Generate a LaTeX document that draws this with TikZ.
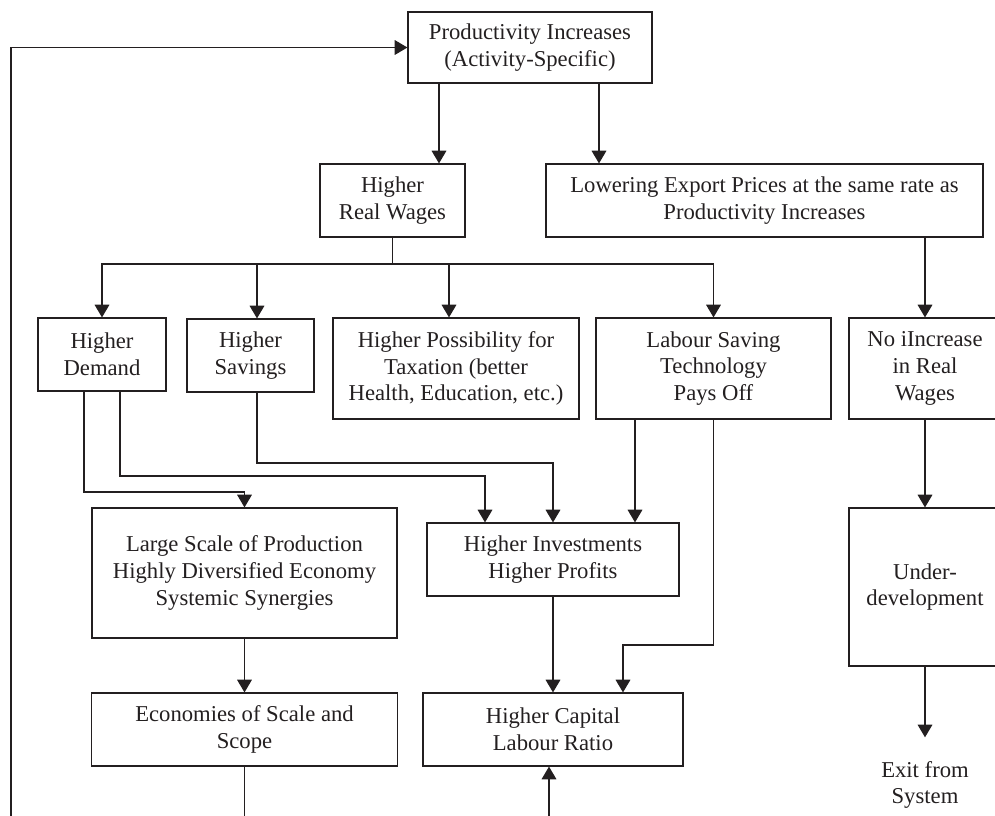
\documentclass[tikz,border=0pt]{standalone}
\usepackage{fontspec}
\setmainfont{Liberation Serif}
\usetikzlibrary{arrows.meta}
\definecolor{ink}{RGB}{35,31,32}

\begin{document}
\begin{tikzpicture}[x=0.75pt,y=0.75pt,yscale=-1,color=ink,line width=0.9pt,
  every node/.style={font=\fontsize{17}{20}\selectfont},
  box/.style={draw, align=center, inner sep=0pt, minimum height=54.75pt},
  tallbox/.style={box, minimum height=75.75pt},
  arr/.style={-{Triangle[length=9.5pt,width=11pt]}}]

%frame of the page (the figure is cut at the right and at the bottom)
\useasboundingbox (0,0) rectangle (995,815);
\clip (0,0) rectangle (995,815);

%Boxes
\node[box, minimum width=183pt, minimum height=53.25pt] (prod) at (530,47.5) {Productivity Increases\\(Activity-Specific)};
\node[box, minimum width=108.75pt] (wages) at (392.5,200.5) {Higher\\Real Wages};
\node[box, minimum width=327.75pt] (lower) at (764.5,200.5) {Lowering Export Prices at the same rate as\\Productivity Increases};
\node[box, minimum width=96pt] (demand) at (102,354.5) {Higher\\Demand};
\node[box, minimum width=95.25pt] (savings) at (250.5,355.5) {Higher\\Savings};
\node[tallbox, minimum width=184.5pt] (tax) at (456,368.5) {Higher Possibility for\\Taxation (better\\Health, Education, etc.)};
\node[tallbox, minimum width=176.25pt] (labour) at (713.5,368.5) {Labour Saving\\Technology\\Pays Off};
\node[tallbox, minimum width=114pt] (noinc) at (925,368.5) {No iIncrease\\in Real\\Wages};
\node[box, minimum width=228.75pt, minimum height=97.5pt] (large) at (244.5,573) {Large Scale of Production\\Highly Diversified Economy\\Systemic Synergies};
\node[box, minimum width=189pt] (invest) at (553,559.5) {Higher Investments\\Higher Profits};
\node[box, minimum width=114pt, minimum height=118.5pt] (under) at (925,587) {Under-\\development};
\node[box, minimum width=229.5pt] (econ) at (244.5,729.5) {Economies of Scale and\\Scope};
\node[box, minimum width=195pt] (capital) at (553,729.5) {Higher Capital\\Labour Ratio};
\node[align=center, inner xsep=0pt, inner ysep=17.5pt] (exit) at (925,785) {Exit from\\System};

%Bends and lanes
\coordinate (loop) at (11,820);
\coordinate (bus) at (392.5,264);
\coordinate (p1) at (439,0);
\coordinate (p2) at (599,0);
\coordinate (s1) at (257,0);
\coordinate (t1) at (449,0);
\coordinate (d1) at (84,492);
\coordinate (d2) at (120,476);
\coordinate (i1) at (485,0);
\coordinate (s2) at (257,463);
\coordinate (l1) at (635,0);
\coordinate (l2) at (623,645);
\coordinate (c1) at (549,820);

%Connectors
\draw[arr] (loop) |- (prod.west);
\draw[arr] (prod.south -| p1) -- (wages.north -| p1);
\draw[arr] (prod.south -| p2) -- (lower.north -| p2);
\draw[arr] (lower.south -| noinc) -- (noinc);
\draw (wages.south) -- (bus);
\draw[arr] (bus) -| (demand.north);
\draw[arr] (bus) -| (labour.north);
\draw[arr] (s1 |- bus) -- (savings.north -| s1);
\draw[arr] (t1 |- bus) -- (tax.north -| t1);
\draw[arr] (demand.south -| d1) -- (d1) -| (large.north);
\draw[arr] (demand.south -| d2) -- (d2) -| (invest.north -| i1);
\draw[arr] (savings.south -| s2) -- (s2) -| (invest.north);
\draw[arr] (labour.south -| l1) -- (invest.north -| l1);
\draw[arr] (labour.south) |- (l2) -- (capital.north -| l2);
\draw[arr] (invest) -- (capital);
\draw[arr] (large) -- (econ);
\draw (econ.south) -- (econ.south |- loop);
\draw[arr] (c1) -- (capital.south -| c1);
\draw[arr] (noinc) -- (under);
\draw[arr] (under) -- (exit);

\end{tikzpicture}
\end{document}
